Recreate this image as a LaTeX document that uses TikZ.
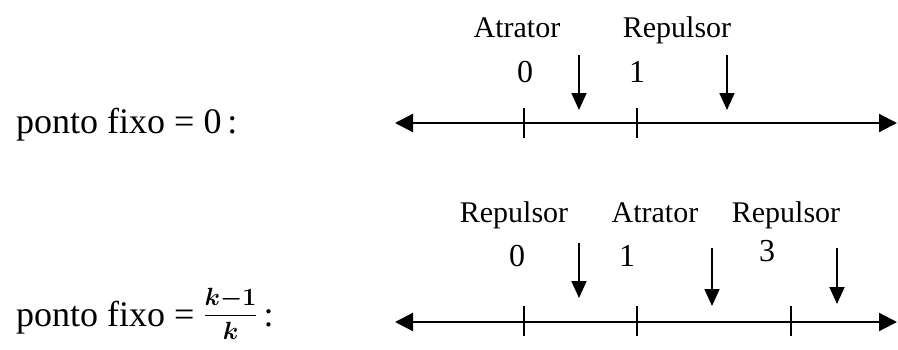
\documentclass[tikz,border=0pt]{standalone}
\usepackage{fontspec}
\setmainfont{Liberation Serif}
\usepackage{amsmath}
\usepackage{bm}
\usetikzlibrary{arrows.meta}
\begin{document}
\begin{tikzpicture}[x=1pt,y=-1pt,
  axisline/.style={line width=2.2pt,{Triangle[length=18pt,width=18pt]}-{Triangle[length=18pt,width=18pt]}},
  tickmark/.style={line width=1.5pt},
  downarrow/.style={line width=1.8pt,-{Triangle[length=17pt,width=15pt]}},
  lbl/.style={font=\fontsize{30}{34}\selectfont,anchor=base,inner sep=0pt},
  numlbl/.style={font=\fontsize{32}{36}\selectfont,anchor=base,inner sep=0pt},
  bigtext/.style={font=\fontsize{36}{40}\selectfont,anchor=base west,inner sep=0pt}]
\useasboundingbox (0,0) rectangle (898,349);
% row 1
\node[bigtext] (t1) at (16,133) {ponto fixo = 0\,:};
\coordinate (L1) at (395,123);
\coordinate (R1) at (897,123);
\draw[axisline] (L1) -- (R1);
\coordinate (a1t) at (524,108); \coordinate (a1b) at (524,138);
\coordinate (b1t) at (637,108); \coordinate (b1b) at (637,138);
\draw[tickmark] (a1t) -- (a1b);
\draw[tickmark] (b1t) -- (b1b);
\coordinate (d1s) at (579,55); \coordinate (d1e) at (579,110);
\coordinate (d2s) at (727,55); \coordinate (d2e) at (727,110);
\draw[downarrow] (d1s) -- (d1e);
\draw[downarrow] (d2s) -- (d2e);
\node[lbl] (at1) at (517,37) {Atrator};
\node[lbl] (re1) at (677,37) {Repulsor};
\node[numlbl] (z1) at (525,82) {0};
\node[numlbl] (o1) at (637,82) {1};
% row 2
\node[bigtext] (t2) at (16,326) {ponto fixo = \raisebox{4pt}{\fontsize{26}{30}\selectfont$\dfrac{\bm{k}{\bm{-}}\bm{1}}{\bm{k}}$}\,:};
\coordinate (L2) at (395,322);
\coordinate (R2) at (897,322);
\draw[axisline] (L2) -- (R2);
\coordinate (a2t) at (524,306); \coordinate (a2b) at (524,336);
\coordinate (b2t) at (637,306); \coordinate (b2b) at (637,336);
\coordinate (c2t) at (791,306); \coordinate (c2b) at (791,336);
\draw[tickmark] (a2t) -- (a2b);
\draw[tickmark] (b2t) -- (b2b);
\draw[tickmark] (c2t) -- (c2b);
\coordinate (e1s) at (579,243); \coordinate (e1e) at (579,298);
\coordinate (e2s) at (712,248); \coordinate (e2e) at (712,306);
\coordinate (e3s) at (837,248); \coordinate (e3e) at (837,304);
\draw[downarrow] (e1s) -- (e1e);
\draw[downarrow] (e2s) -- (e2e);
\draw[downarrow] (e3s) -- (e3e);
\node[lbl] (re2) at (514,222) {Repulsor};
\node[lbl] (at2) at (655,222) {Atrator};
\node[lbl] (re3) at (786,222) {Repulsor};
\node[numlbl] (z2) at (517,266) {0};
\node[numlbl] (o2) at (627,266) {1};
\node[numlbl] (th2) at (767,261) {3};
\end{tikzpicture}
\end{document}
